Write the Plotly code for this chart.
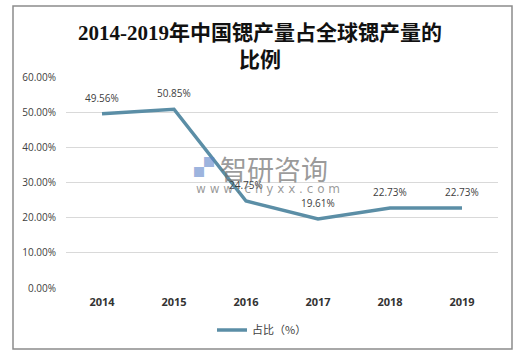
import plotly.graph_objects as go

years = ["2014", "2015", "2016", "2017", "2018", "2019"]
share = [0.4956, 0.5085, 0.2475, 0.1961, 0.2273, 0.2273]
labels = ["49.56%", "50.85%", "24.75%", "19.61%", "22.73%", "22.73%"]
series_name = "占比（%）"
title_text = "2014-2019年中国锶产量占全球锶产量的<br>比例"

W, H = 525, 356
L, R, T, B = 66, 27, 77, 68
pw, ph = W - L - R, H - T - B

def px(x):
    return (x - L) / pw

def py(y):
    return (H - B - y) / ph

fig = go.Figure()
fig.add_trace(go.Scatter(
    x=years, y=share, mode="lines", name=series_name,
    line=dict(color="#5b8ea6", width=3.5),
))

for i, (v, lab) in enumerate(zip(share, labels)):
    fig.add_annotation(x=i, y=v, xref="x", yref="y", text=lab, showarrow=False, yshift=16,
                       font=dict(family="Open Sans, sans-serif", size=10, color="#404040"))

fig.update_layout(
    width=W, height=H,
    margin=dict(l=L, r=R, t=T, b=B),
    paper_bgcolor="white", plot_bgcolor="white",
    title=dict(text=title_text, xref="container", x=260 / W, xanchor="center",
               yref="container", y=1 - 40 / H, yanchor="middle",
               font=dict(family="Liberation Serif, Noto Sans CJK SC", size=21, color="#111111",
                         weight="bold")),
    showlegend=True,
    legend=dict(orientation="h", x=px(262), xanchor="center", y=py(330), yanchor="middle",
                font=dict(family="Noto Sans CJK SC", size=11, color="#404040"),
                itemwidth=30),
    xaxis=dict(type="category", range=[-0.5, 5.5], showgrid=False, showline=False, ticks="",
               tickfont=dict(family="Open Sans, sans-serif", size=11, color="#333333", weight="bold"),
               ticklabelstandoff=6),
    yaxis=dict(range=[0, 0.6001], dtick=0.1, tickformat=".2%", showgrid=True, gridcolor="#d9d9d9",
               gridwidth=1, zeroline=False, showline=False,
               tickfont=dict(family="Open Sans, sans-serif", size=10, color="#404040"),
               ticklabelstandoff=9),
    font=dict(family="Noto Sans CJK SC"),
)

# outer frame
fig.add_shape(type="rect", xref="paper", yref="paper",
              x0=px(13), x1=px(512), y0=py(349), y1=py(6),
              line=dict(color="#8c8c8c", width=1.5), layer="below")

# watermark
fig.add_annotation(text="智研咨询", xref="paper", yref="paper", x=px(218), y=py(168),
                   xanchor="left", yanchor="middle", showarrow=False,
                   font=dict(family="Noto Sans CJK SC", size=27, color="rgba(110,110,110,0.7)"))
fig.add_annotation(text="w w w . c h y x x . c o m", xref="paper", yref="paper", x=px(194), y=py(189),
                   xanchor="left", yanchor="middle", showarrow=False,
                   font=dict(family="DejaVu Sans", size=12, color="rgba(110,110,110,0.7)"))
fig.add_annotation(text="<b>▞</b>", xref="paper", yref="paper", x=px(204), y=py(166),
                   xanchor="center", yanchor="middle", showarrow=False,
                   font=dict(size=20, color="rgba(90,130,200,0.6)"))

fig.write_html("out.html", config={"displayModeBar": False},
               post_script="document.body.style.margin='0';document.body.style.overflow='hidden';")
